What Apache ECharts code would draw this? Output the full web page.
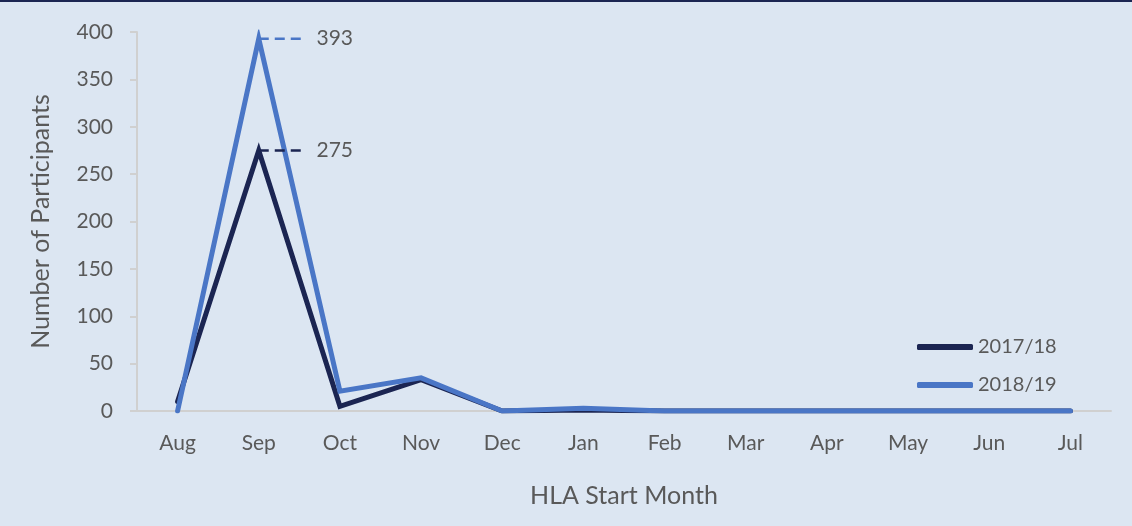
<!DOCTYPE html>
<html>
<head>
<meta charset="utf-8">
<script src="https://cdn.jsdelivr.net/npm/echarts@6/dist/echarts.min.js"></script>
<style>
  html, body { margin: 0; padding: 0; }
  #chart { width: 1132px; height: 526px; background: #dce6f2; box-sizing: border-box; border-top: 2px solid #1b2552; }
</style>
</head>
<body>
<div id="chart"></div>
<script>
// months of HLA start
var months = ['Aug', 'Sep', 'Oct', 'Nov', 'Dec', 'Jan', 'Feb', 'Mar', 'Apr', 'May', 'Jun', 'Jul'];
var y1718 = [10, 275, 5, 33, 0, 1, 0, 0, 0, 0, 0, 0];
var y1819 = [0, 393, 21, 35, 0, 3, 0, 0, 0, 0, 0, 0];
var peakIdx = 1; // Sep gets the value label

var textColor = '#595959';
var font = 'Lato, "Open Sans", sans-serif';

function withPeakLabel(values, color) {
    return values.map(function (v, i) {
        if (i !== peakIdx) return v;
        return {
            value: v,
            label: {
                show: true,
                position: 'right',
                fontSize: 21,
                fontFamily: font,
                color: textColor,
                formatter: '  {c}' // leading spaces leave a gap after the dashes
            },
            labelLine: {
                show: true,
                lineStyle: { color: color, width: 2.5, type: [10, 6] }
            }
        };
    });
}

var chart = echarts.init(document.getElementById('chart'));

function lineSeries(name, values, color) {
    return {
        name: name,
        type: 'line',
        symbol: 'circle',
        symbolSize: 0,
        showSymbol: true,
        data: withPeakLabel(values, color),
        labelLayout: { dx: 42, dy: 0 },
        itemStyle: { color: color },
        lineStyle: { color: color, width: 5, cap: 'round', join: 'miter' }
    };
}

var option = {
    animation: false,
    textStyle: { fontFamily: font },
    grid: { left: 137, right: 21, top: 30, bottom: 115 },
    legend: {
        orient: 'vertical',
        left: 912,
        top: 330,
        itemWidth: 56,
        itemHeight: 6,
        itemGap: 18,
        textStyle: { fontSize: 20, color: textColor, fontFamily: font },
        data: [
            { name: '2017/18', icon: 'roundRect' },
            { name: '2018/19', icon: 'roundRect' }
        ]
    },
    xAxis: {
        type: 'category',
        data: months,
        boundaryGap: true,
        name: 'HLA Start Month',
        nameLocation: 'middle',
        nameGap: 72,
        nameTextStyle: { fontSize: 25, color: textColor, fontFamily: font },
        axisLine: { lineStyle: { color: '#d0d0d0', width: 2 } },
        axisTick: { show: false },
        axisLabel: { fontSize: 21, color: textColor, margin: 22, fontFamily: font }
    },
    yAxis: {
        type: 'value',
        min: 0,
        max: 400,
        interval: 50,
        name: 'Number of Participants',
        nameLocation: 'middle',
        nameGap: 84,
        nameTextStyle: { fontSize: 25, color: textColor, fontFamily: font },
        axisLine: { show: true, lineStyle: { color: '#d0d0d0', width: 2 } },
        axisTick: { show: true, length: 7, lineStyle: { color: '#d0d0d0', width: 2 } },
        axisLabel: { fontSize: 21, color: textColor, margin: 24, fontFamily: font },
        splitLine: { show: false }
    },
    series: [
        lineSeries('2017/18', y1718, '#1b2552'),
        lineSeries('2018/19', y1819, '#4a76c6')
    ]
};

chart.setOption(option);
</script>
</body>
</html>
